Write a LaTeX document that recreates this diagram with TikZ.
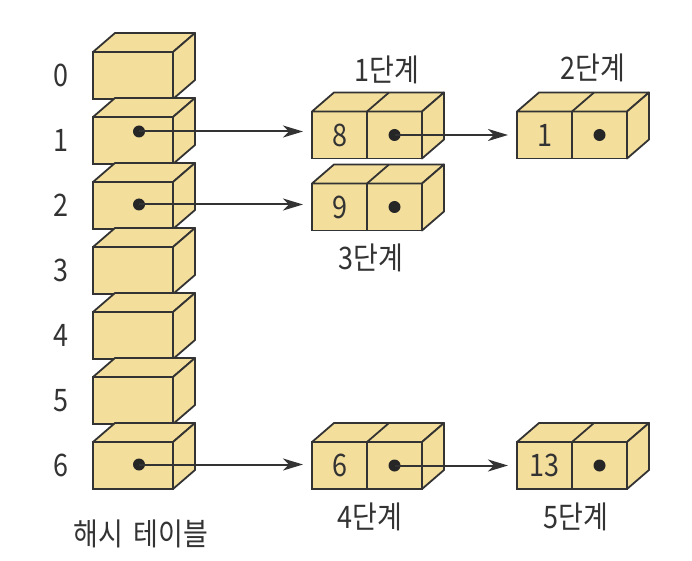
\documentclass[tikz,border=0pt]{standalone}
\usepackage{fontspec}
\setmainfont{Noto Sans CJK KR}[FakeStretch=0.87]
\usetikzlibrary{arrows.meta, positioning, calc}
\definecolor{boxfill}{HTML}{F4DE9C}
\definecolor{boxline}{HTML}{333333}
\tikzset{
    slot/.style={
        rectangle,
        minimum width=80pt,
        minimum height=47pt,
        inner sep=0pt,
        outer sep=0pt,
        draw=boxline,
        fill=boxfill,
        line width=1.8pt,
        text=boxline,
        font=\fontsize{31}{34}\selectfont
    },
    cell/.style={
        slot,
        minimum width=55pt
    },
    face/.style={
        draw=boxline,
        fill=boxfill,
        line width=1.8pt,
        line join=round
    },
    dot/.style={
        circle,
        fill=black!85,
        minimum size=12pt,
        inner sep=0pt
    },
    txt/.style={
        text=boxline,
        inner sep=0pt,
        font=\fontsize{31}{34}\selectfont
    },
    arrow/.style={
        draw=boxline,
        line width=2pt,
        -{Stealth[length=20pt, width=12pt, inset=6pt]},
        shorten >=9pt
    }
}
% top and side of a box (left front node, right front node)
\newcommand{\boxdepth}[2]{%
    \draw[face] (#1.north west) -- ++(22pt,19pt) -- ($(#2.north east)+(22pt,19pt)$) -- (#2.north east) -- cycle;
    \draw[face] (#2.north east) -- ++(22pt,19pt) -- ($(#2.south east)+(22pt,19pt)$) -- (#2.south east) -- cycle;
}
\newcommand{\pairdepth}[2]{%
    \boxdepth{#1}{#2}
    \draw[face] (#2.north west) -- ++(22pt,19pt);
}

\begin{document}
\begin{tikzpicture}[x=1pt, y=1pt]
\useasboundingbox (0,0) rectangle (692,560);

% Hash table
\node (slot0) [slot] at (133,484.5) {};
\foreach \i [count=\j from 1] in {0,...,5} {
    \node (slot\j) [slot, below=18pt of slot\i] {};
}
\foreach \i in {0,...,6} {
    \boxdepth{slot\i}{slot\i}
    \node[txt, left=24pt of slot\i] {\i};
}
\node[txt] (tablename) at (141,26) {해시\hspace{10pt}테이블};

% Chain nodes
\node (key1) [cell] at (339.5,425) {8};
\node (ptr1) [cell, right=0pt of key1] {};
\node (key2) [cell, right=95pt of ptr1] {1};
\node (ptr2) [cell, right=0pt of key2] {};
\node (key3) [cell, below=25pt of key1] {9};
\node (ptr3) [cell, right=0pt of key3] {};
\node (key4) [cell] at (key1 |- slot6) {6};
\node (ptr4) [cell, right=0pt of key4] {};
\node (key5) [cell, right=95pt of ptr4] {13};
\node (ptr5) [cell, right=0pt of key5] {};
\foreach \k in {1,...,5} {
    \pairdepth{key\k}{ptr\k}
    \node[dot] (pdot\k) at (ptr\k.center) {};
}

% Stage labels
\node[txt] (stage1) at (387,490) {1단계};
\node[txt] (stage2) at (593,492) {2단계};
\node[txt] (stage3) at (371,302) {3단계};
\node[txt] (stage4) at (370,43) {4단계};
\node[txt] (stage5) at (576,43) {5단계};

% Dots in the table
\node[dot] (tdot1) at ([xshift=6pt, yshift=9pt]slot1.center) {};
\node[dot] (tdot2) at ([xshift=6pt, yshift=1pt]slot2.center) {};
\node[dot] (tdot6) at ([xshift=6pt, yshift=1pt]slot6.center) {};

% Arrows
\draw[arrow] (tdot1.center) -- (tdot1.center -| key1.west);
\draw[arrow] (tdot2.center) -- (tdot2.center -| key3.west);
\draw[arrow] (tdot6.center) -- (tdot6.center -| key4.west);
\draw[arrow] (pdot1.center) -- (pdot1.center -| key2.west);
\draw[arrow] (pdot4.center) -- (pdot4.center -| key5.west);

\end{tikzpicture}
\end{document}
